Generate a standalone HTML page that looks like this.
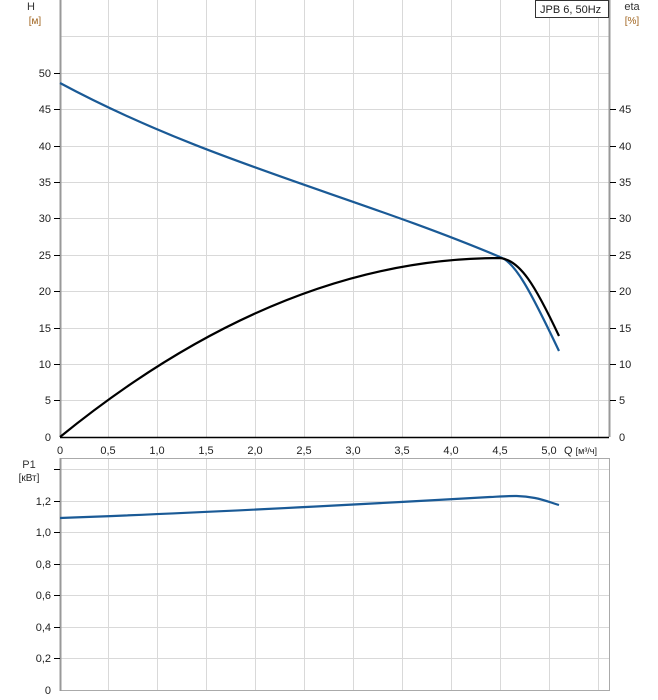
<!DOCTYPE html>
<html><head><meta charset="utf-8"><style>
html,body{margin:0;padding:0;background:#fff;}
svg{display:block;font-family:"Liberation Sans",sans-serif;}
</style></head><body>
<svg width="658" height="700" viewBox="0 0 658 700" xmlns="http://www.w3.org/2000/svg">
<rect width="658" height="700" fill="#fff"/>
<g stroke="#d9d9d9" stroke-width="1">
<line x1="108.5" y1="0" x2="108.5" y2="437"/><line x1="157.5" y1="0" x2="157.5" y2="437"/>
<line x1="206.5" y1="0" x2="206.5" y2="437"/><line x1="255.5" y1="0" x2="255.5" y2="437"/>
<line x1="304.5" y1="0" x2="304.5" y2="437"/><line x1="353.5" y1="0" x2="353.5" y2="437"/>
<line x1="402.5" y1="0" x2="402.5" y2="437"/><line x1="451.5" y1="0" x2="451.5" y2="437"/>
<line x1="500.5" y1="0" x2="500.5" y2="437"/><line x1="549.5" y1="0" x2="549.5" y2="437"/>
<line x1="598.5" y1="0" x2="598.5" y2="437"/>
<line x1="60" y1="36.5" x2="609" y2="36.5"/><line x1="60" y1="73.5" x2="609" y2="73.5"/>
<line x1="60" y1="109.5" x2="609" y2="109.5"/><line x1="60" y1="146.5" x2="609" y2="146.5"/>
<line x1="60" y1="182.5" x2="609" y2="182.5"/><line x1="60" y1="218.5" x2="609" y2="218.5"/>
<line x1="60" y1="255.5" x2="609" y2="255.5"/><line x1="60" y1="291.5" x2="609" y2="291.5"/>
<line x1="60" y1="328.5" x2="609" y2="328.5"/><line x1="60" y1="364.5" x2="609" y2="364.5"/>
<line x1="60" y1="400.5" x2="609" y2="400.5"/>
<line x1="108.5" y1="458" x2="108.5" y2="690"/><line x1="157.5" y1="458" x2="157.5" y2="690"/>
<line x1="206.5" y1="458" x2="206.5" y2="690"/><line x1="255.5" y1="458" x2="255.5" y2="690"/>
<line x1="304.5" y1="458" x2="304.5" y2="690"/><line x1="353.5" y1="458" x2="353.5" y2="690"/>
<line x1="402.5" y1="458" x2="402.5" y2="690"/><line x1="451.5" y1="458" x2="451.5" y2="690"/>
<line x1="500.5" y1="458" x2="500.5" y2="690"/><line x1="549.5" y1="458" x2="549.5" y2="690"/>
<line x1="598.5" y1="458" x2="598.5" y2="690"/>
<line x1="60" y1="469.5" x2="609" y2="469.5"/><line x1="60" y1="501.5" x2="609" y2="501.5"/>
<line x1="60" y1="532.5" x2="609" y2="532.5"/><line x1="60" y1="564.5" x2="609" y2="564.5"/>
<line x1="60" y1="595.5" x2="609" y2="595.5"/><line x1="60" y1="627.5" x2="609" y2="627.5"/>
<line x1="60" y1="658.5" x2="609" y2="658.5"/>
</g>
<g stroke="#999" fill="none">
<line x1="60.5" y1="0" x2="60.5" y2="437" stroke-width="2"/>
<line x1="609.5" y1="0" x2="609.5" y2="437" stroke-width="2"/>
<rect x="60.5" y="458.5" width="549" height="232" stroke="#aaa"/>
<line x1="60.5" y1="458" x2="60.5" y2="691" stroke-width="2"/>
</g>
<line x1="60" y1="437.5" x2="609" y2="437.5" stroke="#000" stroke-width="1.5"/>
<g stroke="#000">
<line x1="54" y1="73.5" x2="60" y2="73.5"/><line x1="54" y1="109.5" x2="60" y2="109.5"/><line x1="54" y1="146.5" x2="60" y2="146.5"/><line x1="54" y1="182.5" x2="60" y2="182.5"/><line x1="54" y1="218.5" x2="60" y2="218.5"/><line x1="54" y1="255.5" x2="60" y2="255.5"/><line x1="54" y1="291.5" x2="60" y2="291.5"/><line x1="54" y1="328.5" x2="60" y2="328.5"/><line x1="54" y1="364.5" x2="60" y2="364.5"/><line x1="54" y1="400.5" x2="60" y2="400.5"/>
<line x1="610" y1="109.5" x2="616" y2="109.5"/><line x1="610" y1="146.5" x2="616" y2="146.5"/><line x1="610" y1="182.5" x2="616" y2="182.5"/><line x1="610" y1="218.5" x2="616" y2="218.5"/><line x1="610" y1="255.5" x2="616" y2="255.5"/><line x1="610" y1="291.5" x2="616" y2="291.5"/><line x1="610" y1="328.5" x2="616" y2="328.5"/><line x1="610" y1="364.5" x2="616" y2="364.5"/><line x1="610" y1="400.5" x2="616" y2="400.5"/>
<line x1="54" y1="469.5" x2="60" y2="469.5"/><line x1="54" y1="501.5" x2="60" y2="501.5"/><line x1="54" y1="532.5" x2="60" y2="532.5"/><line x1="54" y1="564.5" x2="60" y2="564.5"/><line x1="54" y1="595.5" x2="60" y2="595.5"/><line x1="54" y1="627.5" x2="60" y2="627.5"/><line x1="54" y1="658.5" x2="60" y2="658.5"/>
</g>
<g font-size="11" fill="#222">
<g text-anchor="end">
<text x="51" y="77">50</text><text x="51" y="113">45</text><text x="51" y="150">40</text><text x="51" y="186">35</text><text x="51" y="222">30</text><text x="51" y="259">25</text><text x="51" y="295">20</text><text x="51" y="332">15</text><text x="51" y="368">10</text><text x="51" y="404">5</text><text x="51" y="441">0</text>
<text x="51" y="505">1,2</text><text x="51" y="536">1,0</text><text x="51" y="568">0,8</text><text x="51" y="599">0,6</text><text x="51" y="631">0,4</text><text x="51" y="662">0,2</text><text x="51" y="694">0</text>
</g>
<text x="619" y="113">45</text><text x="619" y="150">40</text><text x="619" y="186">35</text><text x="619" y="222">30</text><text x="619" y="259">25</text><text x="619" y="295">20</text><text x="619" y="332">15</text><text x="619" y="368">10</text><text x="619" y="404">5</text><text x="619" y="441">0</text>
<g text-anchor="middle">
<text x="60" y="454">0</text><text x="108" y="454">0,5</text><text x="157" y="454">1,0</text><text x="206" y="454">1,5</text><text x="255" y="454">2,0</text><text x="304" y="454">2,5</text><text x="353" y="454">3,0</text><text x="402" y="454">3,5</text><text x="451" y="454">4,0</text><text x="500" y="454">4,5</text><text x="549" y="454">5,0</text>
</g>
<text x="564" y="454">Q <tspan font-size="9">[м³/ч]</tspan></text>
<text x="31" y="10" text-anchor="middle" fill="#333">H</text>
<text x="35" y="24" text-anchor="middle" font-size="10" fill="#a0641e">[м]</text>
<text x="632" y="10" text-anchor="middle" fill="#333">eta</text>
<text x="632" y="24" text-anchor="middle" font-size="10" fill="#a0641e">[%]</text>
<text x="29" y="468" text-anchor="middle" fill="#333">P1</text>
<text x="29" y="481" text-anchor="middle" font-size="10">[кВт]</text>
</g>
<rect x="535.5" y="0.5" width="73" height="17" fill="#fff" stroke="#333"/>
<text x="540" y="13" font-size="11" fill="#222">JPB 6, 50Hz</text>
<path d="M60,83 C207,162 353,195 500,257" fill="none" stroke="#1a5a96" stroke-width="2.2"/>
<path d="M500,257 C515,262 530,290 559,351" fill="none" stroke="#1a5a96" stroke-width="2.2"/>
<path d="M60,437 Q280,258 500,258 C520,260 535,285 559,336" fill="none" stroke="#000" stroke-width="2.2"/>
<path d="M60,518 C200,513 350,505 490,497 C510,496 520,495 535,498 C545,500 552,503 559,505" fill="none" stroke="#1a5a96" stroke-width="2.2"/>
</svg>
</body></html>
